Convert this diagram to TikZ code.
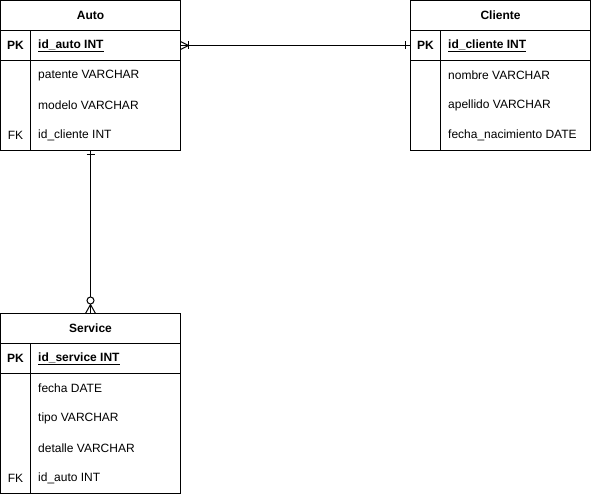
\documentclass[tikz,border=0pt]{standalone}
\usepackage{fontspec}
\setmainfont{Liberation Sans}
\usetikzlibrary{calc}
\tikzset{
 tbl/.style={draw, line width=1pt, minimum width=180pt, inner sep=0pt, outer sep=0pt, anchor=north west},
 tblrow/.style={minimum width=180pt, minimum height=30pt, inner sep=0pt, outer sep=0pt, anchor=north west},
 boldtxt/.style={font=\fontsize{12}{14}\selectfont\bfseries, inner sep=0pt},
 plaintxt/.style={font=\fontsize{12}{14}\selectfont, inner sep=0pt},
 fieldtxt/.style={plaintxt, anchor=west},
 conn/.style={line width=1pt},
 grid line/.style={line width=1pt},
}
\begin{document}
\begin{tikzpicture}[x=1pt,y=-1pt]
\useasboundingbox (0,0) rectangle (591,494);

% ---------- Auto ----------
\node[tbl, minimum height=150pt] (auto) at (0.5,0.5) {};
\node[tblrow] (autopk) at (0.5,30.5) {};
\draw[grid line] (autopk.north west) -- (autopk.north east);
\draw[grid line] (autopk.south west) -- (autopk.south east);
\draw[grid line] ($(autopk.north west)+(30,0)$) -- ($(auto.south west)+(30,0)$);
\node[boldtxt] (autot) at (90.5,15.5) {Auto};
\node[boldtxt] (autopkk) at (15.5,45.5) {PK};
\node[boldtxt, anchor=west] (autof0) at (38,45.5) {\underline{id\_auto INT}};
\node[fieldtxt] (autof1) at (38,75.5) {patente VARCHAR};
\node[fieldtxt] (autof2) at (38,105.5) {modelo VARCHAR};
\node[plaintxt] (autofk) at (15.5,135.5) {FK};
\node[fieldtxt] (autof3) at (38,135.5) {id\_cliente INT};

% ---------- Cliente ----------
\node[tbl, minimum height=150pt] (cliente) at (410.5,0.5) {};
\node[tblrow] (clientepk) at (410.5,30.5) {};
\draw[grid line] (clientepk.north west) -- (clientepk.north east);
\draw[grid line] (clientepk.south west) -- (clientepk.south east);
\draw[grid line] ($(clientepk.north west)+(30,0)$) -- ($(cliente.south west)+(30,0)$);
\node[boldtxt] (clientet) at (500.5,15.5) {Cliente};
\node[boldtxt] (clientepkk) at (425.5,45.5) {PK};
\node[boldtxt, anchor=west] (clientef0) at (448,45.5) {\underline{id\_cliente INT}};
\node[fieldtxt] (clientef1) at (448,75.5) {nombre VARCHAR};
\node[fieldtxt] (clientef2) at (448,105.5) {apellido VARCHAR};
\node[fieldtxt] (clientef3) at (448,135.5) {fecha\_nacimiento DATE};

% ---------- Service ----------
\node[tbl, minimum height=180pt] (service) at (0.5,313.5) {};
\node[tblrow] (servicepk) at (0.5,343.5) {};
\draw[grid line] (servicepk.north west) -- (servicepk.north east);
\draw[grid line] (servicepk.south west) -- (servicepk.south east);
\draw[grid line] ($(servicepk.north west)+(30,0)$) -- ($(service.south west)+(30,0)$);
\node[boldtxt] (servicet) at (90.5,328.5) {Service};
\node[boldtxt] (servicepkk) at (15.5,358.5) {PK};
\node[boldtxt, anchor=west] (servicef0) at (38,358.5) {\underline{id\_service INT}};
\node[fieldtxt] (servicef1) at (38,388.5) {fecha DATE};
\node[fieldtxt] (servicef2) at (38,418.5) {tipo VARCHAR};
\node[fieldtxt] (servicef3) at (38,448.5) {detalle VARCHAR};
\node[plaintxt] (servicefk) at (15.5,478.5) {FK};
\node[fieldtxt] (servicef4) at (38,478.5) {id\_auto INT};

% ---------- Connectors ----------
% Auto -- Cliente (one-to-many at Auto, one at Cliente)
\draw[conn] (autopk.east) -- (clientepk.west);
\draw[conn] ($(autopk.east)+(0,-4)$) -- ($(autopk.east)+(8,0)$) -- ($(autopk.east)+(0,4)$);
\draw[conn] ($(autopk.east)+(8,-4)$) -- ($(autopk.east)+(8,4)$);
\draw[conn] ($(clientepk.west)+(-5,-4)$) -- ($(clientepk.west)+(-5,4)$);

% Auto -- Service (one at Auto, zero-to-many at Service)
\draw[conn] (auto.south) -- (service.north);
\draw[conn] ($(auto.south)+(-4,4)$) -- ($(auto.south)+(4,4)$);
\draw[conn] ($(service.north)+(-5,0)$) -- ($(service.north)+(0,-9)$) -- ($(service.north)+(5,0)$);
\draw[conn, fill=white] ($(service.north)+(0,-13)$) circle (3.5pt);
\end{tikzpicture}
\end{document}
